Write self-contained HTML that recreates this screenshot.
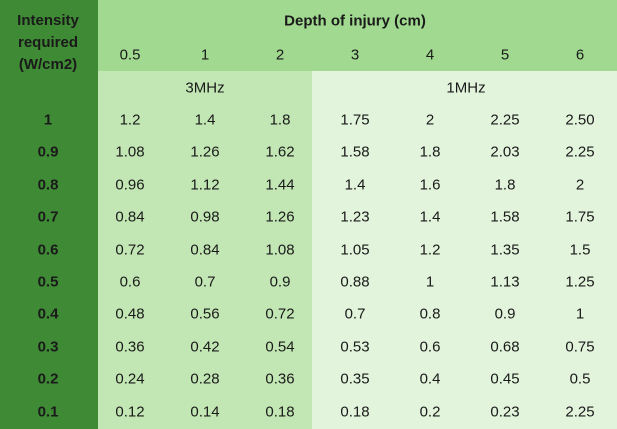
<!DOCTYPE html>
<html><head><meta charset="utf-8"><style>
body{margin:0;width:617px;height:429px;overflow:hidden;font-family:"Liberation Sans",sans-serif;font-size:15px;color:#1a1a1a}
#t{position:relative;width:617px;height:429px;background:#e2f4dc}
.b{position:absolute}
.c{position:absolute;transform:translate(-50%,-50%);white-space:nowrap}
.bold{font-weight:bold}
</style></head><body>
<div id="t">
<div class="b" style="left:98px;top:0;width:519px;height:71px;background:#a0d98f"></div>
<div class="b" style="left:98px;top:71px;width:214px;height:358px;background:#c2e7b4"></div>
<div class="b" style="left:0;top:0;width:98px;height:429px;background:#3f8a35"></div>
<div class="c bold" style="left:48px;top:43px;text-align:center;line-height:22px">Intensity<br>required<br>(W/cm2)</div>
<div class="c bold" style="left:355px;top:21px">Depth of injury (cm)</div>
<div class="c" style="left:205px;top:88px">3MHz</div>
<div class="c" style="left:466px;top:88px">1MHz</div>
</div>
<script>
const depths=["0.5","1","2","3","4","5","6"];
const intensities=["1","0.9","0.8","0.7","0.6","0.5","0.4","0.3","0.2","0.1"];
const values=[
["1.2","1.4","1.8","1.75","2","2.25","2.50"],
["1.08","1.26","1.62","1.58","1.8","2.03","2.25"],
["0.96","1.12","1.44","1.4","1.6","1.8","2"],
["0.84","0.98","1.26","1.23","1.4","1.58","1.75"],
["0.72","0.84","1.08","1.05","1.2","1.35","1.5"],
["0.6","0.7","0.9","0.88","1","1.13","1.25"],
["0.48","0.56","0.72","0.7","0.8","0.9","1"],
["0.36","0.42","0.54","0.53","0.6","0.68","0.75"],
["0.24","0.28","0.36","0.35","0.4","0.45","0.5"],
["0.12","0.14","0.18","0.18","0.2","0.23","2.25"]];
const t=document.getElementById('t');
const colX=[130,205,280,355,430,505,580];
function mk(txt,x,y,cls,name){const d=document.createElement('div');d.className='c'+(cls?' '+cls:'');d.textContent=txt;d.style.left=x+'px';d.style.top=y+'px';


t.appendChild(d);}
depths.forEach((v,i)=>mk(v,colX[i],55,'','depth-'+i));
intensities.forEach((v,r)=>{const y=120+r*32.4;mk(v,48,y,'bold','intensity-'+r);
values[r].forEach((c,i)=>mk(c,colX[i],y,'','cell-'+r+'-'+i));});
</script>
</body></html>
